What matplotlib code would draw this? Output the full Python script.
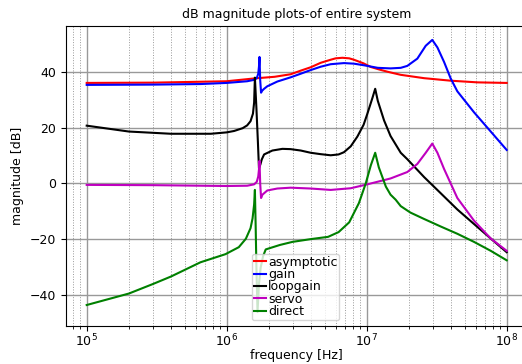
import numpy as np
import matplotlib
matplotlib.use("Agg")
import matplotlib.pyplot as plt

# ---- data (frequency in Hz, magnitude in dB) ----
asym_f = [1e5, 3e5, 1e6, 1.57e6, 2.2e6, 2.86e6, 3.38e6, 3.98e6, 4.69e6, 5.53e6, 6.0e6, 6.7e6,
          7.5e6, 8.11e6, 9.5e6, 1.07e7, 1.23e7, 1.41e7, 1.75e7, 2.57e7, 3.98e7, 6.18e7, 1e8]
asym_db = [36.0, 36.1, 36.6, 37.6, 38.2, 39.1, 40.4, 41.6, 43.2, 44.3, 44.8, 45.0,
           44.8, 44.3, 43.0, 41.7, 40.8, 40.0, 38.9, 37.7, 36.8, 36.2, 36.0]

gain_f = [1e5, 3e5, 6.5e5, 1e6, 1.4e6, 1.57e6, 1.64e6, 1.68e6, 1.70e6, 1.715e6, 1.735e6, 1.76e6,
          1.79e6, 1.85e6, 1.95e6, 2.3e6, 2.86e6, 3.38e6, 3.98e6, 4.69e6, 5.53e6, 6.88e6, 8.1e6,
          9.6e6, 1.2e7, 1.48e7, 1.75e7, 1.95e7, 2.3e7, 2.64e7, 2.94e7, 3.2e7, 3.57e7, 3.98e7,
          4.44e7, 5.84e7, 7.69e7, 1e8]
gain_db = [35.3, 35.4, 35.6, 36.0, 36.6, 37.1, 37.7, 39.3, 41.8, 45.3, 37.0, 32.5,
           33.2, 33.9, 34.8, 36.5, 38.0, 39.3, 40.6, 41.8, 42.7, 43.1, 42.9,
           42.3, 41.4, 41.2, 41.4, 42.1, 44.7, 49.3, 51.4, 48.7, 43.5, 37.6,
           33.0, 25.5, 18.6, 12.0]

loop_f = [1e5, 2e5, 4e5, 7.7e5, 1e6, 1.13e6, 1.3e6, 1.4e6, 1.48e6, 1.54e6, 1.57e6, 1.59e6,
          1.63e6, 1.67e6, 1.70e6, 1.74e6, 1.78e6, 1.85e6, 2.12e6, 2.5e6, 2.86e6, 3.38e6,
          3.98e6, 4.69e6, 5.53e6, 6.3e6, 6.88e6, 7.69e6, 8.58e6, 9.5e6, 1.01e7, 1.10e7,
          1.15e7, 1.20e7, 1.33e7, 1.48e7, 1.75e7, 1.95e7, 2.57e7, 3.38e7, 4.44e7, 5.84e7,
          7.69e7, 1e8]
loop_db = [20.7, 18.6, 17.8, 17.8, 18.3, 18.8, 19.8, 20.8, 22.3, 25.0, 29.0, 37.9,
           27.0, 15.0, 5.5, 6.8, 8.6, 10.4, 11.8, 12.4, 12.3, 11.8,
           11.0, 10.5, 10.1, 10.4, 11.2, 13.3, 16.8, 21.0, 24.9, 30.7,
           33.9, 29.6, 22.6, 17.0, 11.0, 8.7, 2.3, -3.5, -9.3, -14.5,
           -19.7, -24.6]

servo_f = [1e5, 3e5, 1e6, 1.4e6, 1.57e6, 1.64e6, 1.68e6, 1.70e6, 1.715e6, 1.735e6, 1.76e6,
           1.8e6, 1.95e6, 2.3e6, 2.86e6, 3.98e6, 5.53e6, 7.69e6, 1.01e7, 1.33e7, 1.48e7,
           1.75e7, 1.95e7, 2.3e7, 2.64e7, 2.94e7, 3.2e7, 3.57e7, 4.44e7, 5.84e7, 7.69e7, 1e8]
servo_db = [-0.5, -0.6, -0.9, -0.8, -0.3, 0.6, 2.5, 5.0, 8.1, 0.0, -5.2,
            -4.0, -2.5, -1.8, -1.5, -1.8, -2.3, -1.7, -0.3, 1.2, 1.8,
            3.2, 4.1, 7.0, 11.0, 14.3, 11.0, 5.2, -5.2, -13.3, -19.7, -24.1]

direct_f = [1e5, 2e5, 3e5, 4e5, 6.5e5, 9.8e5, 1.22e6, 1.37e6, 1.48e6, 1.53e6, 1.57e6, 1.59e6,
            1.61e6, 1.63e6, 1.66e6, 1.70e6, 1.75e6, 1.82e6, 1.9e6, 2.4e6, 2.95e6, 4.0e6,
            5.3e6, 6.3e6, 7.5e6, 8.8e6, 9.84e6, 1.07e7, 1.15e7, 1.22e7, 1.37e7, 1.48e7,
            1.61e7, 1.75e7, 2.05e7, 2.57e7, 3.38e7, 4.44e7, 5.84e7, 7.69e7, 1e8]
direct_db = [-43.5, -39.4, -35.9, -33.3, -28.2, -25.3, -22.8, -19.8, -16.0, -12.5, -7.5, -2.3,
             -15.0, -30.0, -46.0, -36.0, -30.0, -26.0, -23.6, -22.0, -20.9, -19.9,
             -19.1, -17.4, -13.9, -7.0, 0.0, 6.5, 11.0, 5.8, -1.1, -4.0,
             -5.8, -8.1, -10.4, -12.7, -15.4, -18.0, -20.9, -24.1, -27.5]

labels = ["asymptotic", "gain", "loopgain", "servo", "direct"]
colors = ["r", "b", "k", "m", "g"]

plt.rcParams["font.family"] = ["DejaVu Sans"]
plt.rcParams["font.size"] = 9

fig = plt.figure(figsize=(5.22, 3.64), dpi=100)
ax = fig.add_axes([65.7 / 522, 1 - 325.6 / 364, 462 / 522, (325.6 - 26.3) / 364])

series = [(asym_f, asym_db), (gain_f, gain_db), (loop_f, loop_db),
          (servo_f, servo_db), (direct_f, direct_db)]
for (f, d), lab, c in zip(series, labels, colors):
    ax.semilogx(f, d, color=c, lw=1.5, label=lab)

ax.set_yticks([-40, -20, 0, 20, 40])
ax.tick_params(axis="x", which="major", pad=1.5)
ax.grid(True, which="major", color="0.6", lw=1.0, ls="-")
ax.grid(True, which="minor", color="0.6", lw=0.7, ls=":")
ax.set_title("dB magnitude plots-of entire system", fontsize=9)
ax.set_xlabel("frequency [Hz]", labelpad=0)
ax.set_ylabel("magnitude [dB]")

leg = ax.legend(loc="lower left", bbox_to_anchor=(0.4026, 0.0187), borderaxespad=0,
                borderpad=0.15, handlelength=1.0, handletextpad=0.15,
                labelspacing=-0.05, fontsize=9)

fig.savefig("out.png", dpi=100)
